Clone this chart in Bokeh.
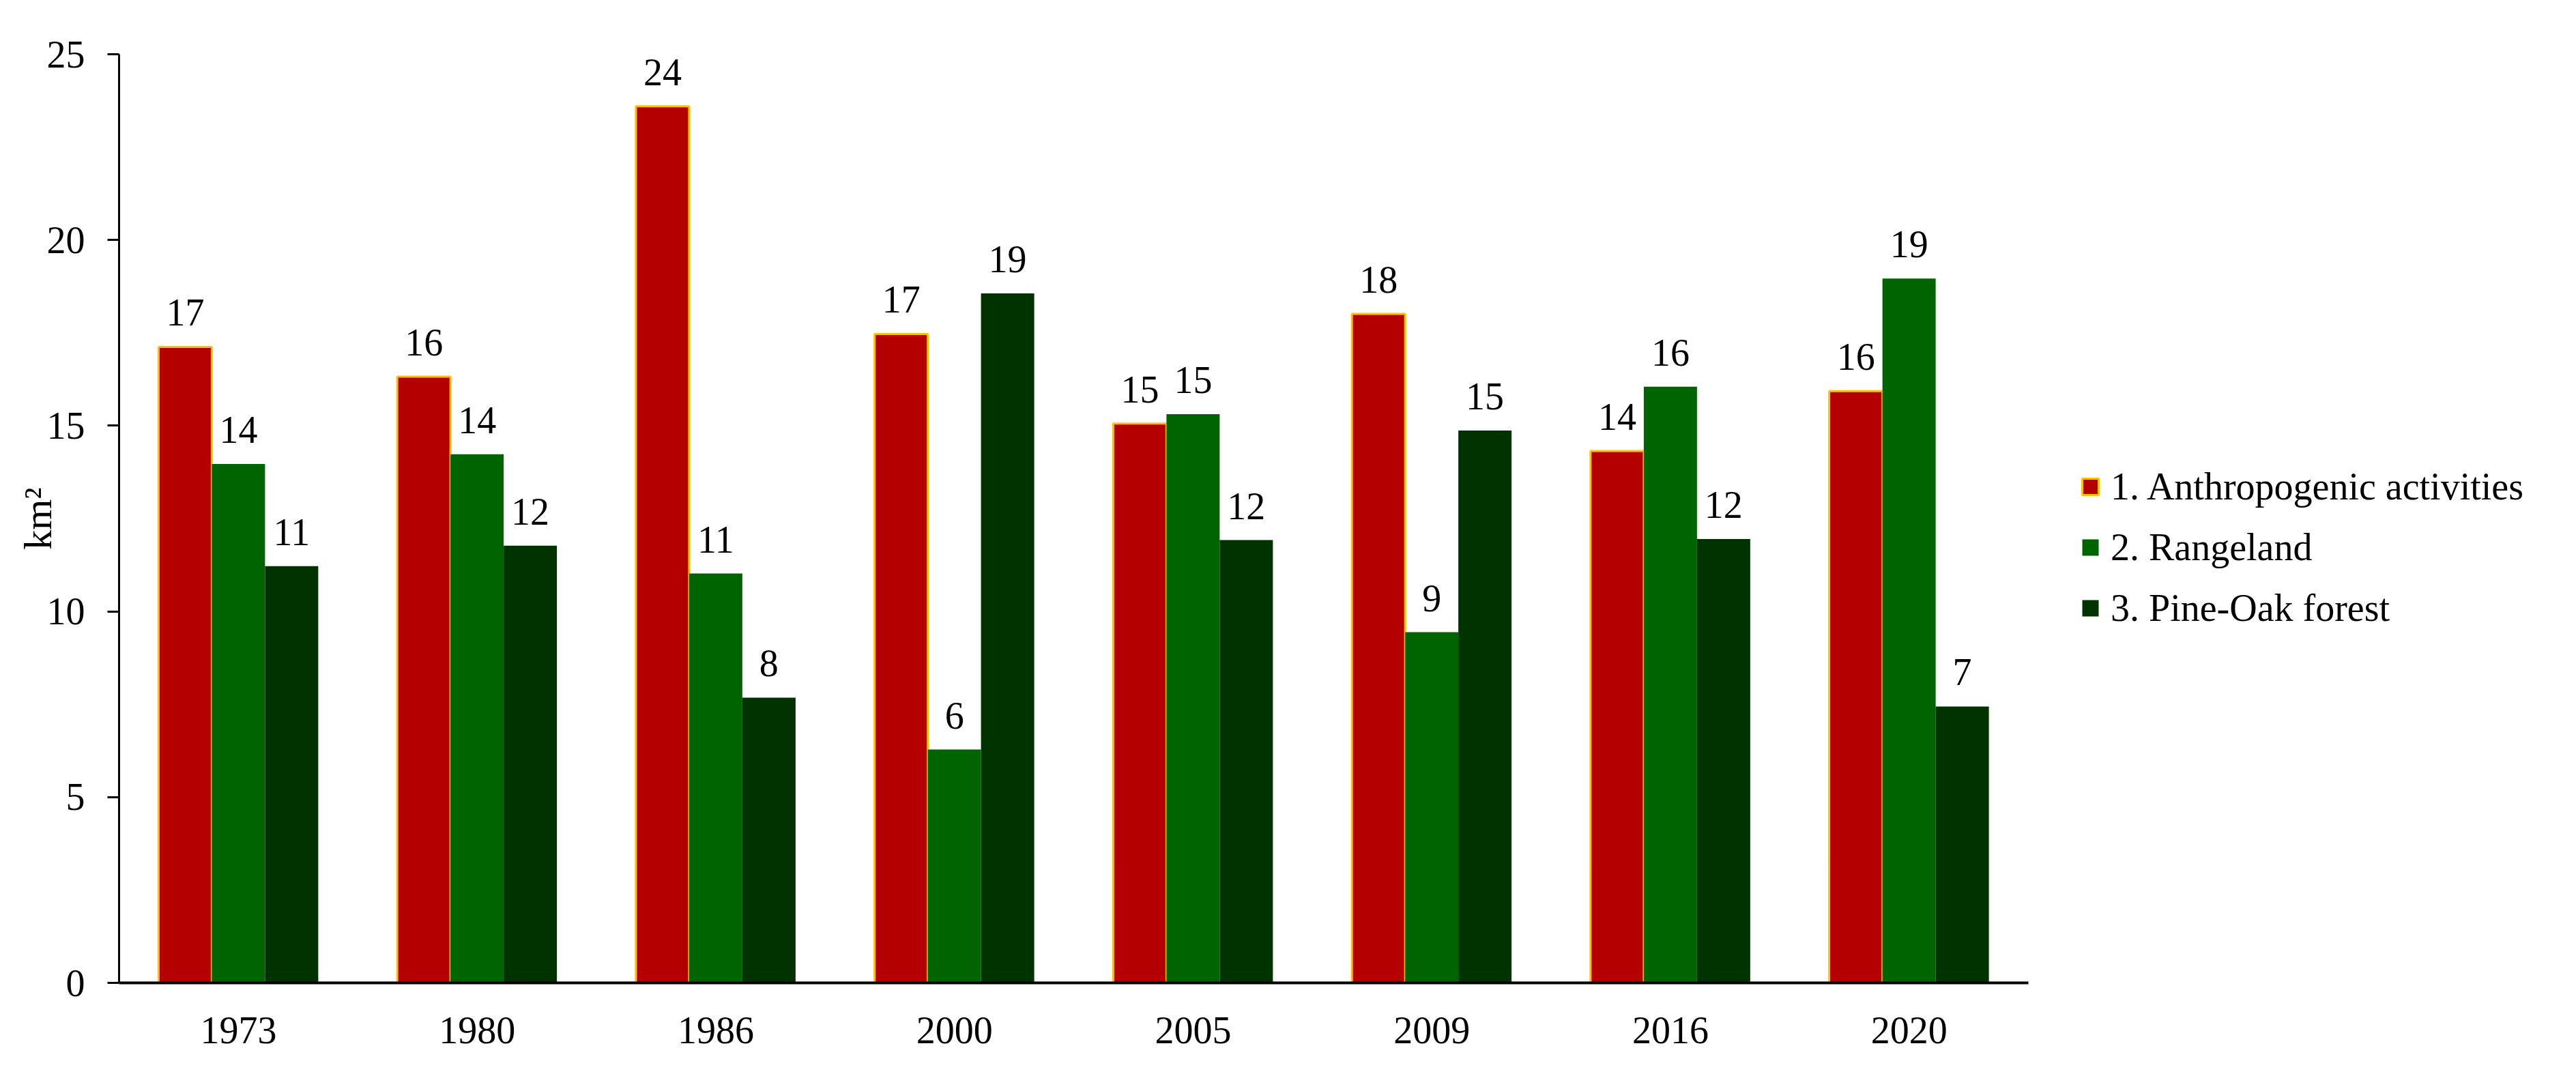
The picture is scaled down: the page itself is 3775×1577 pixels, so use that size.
from bokeh.plotting import figure
from bokeh.models import (ColumnDataSource, Legend, LegendItem, SingleIntervalTicker,
                          FixedTicker, Range1d)
from bokeh.core.properties import value
from bokeh.embed import file_html
from bokeh.resources import INLINE

years = ["1973", "1980", "1986", "2000", "2005", "2009", "2016", "2020"]
anthropogenic = [17.12, 16.32, 23.60, 17.47, 15.06, 18.01, 14.32, 15.93]
rangeland = [13.97, 14.23, 11.02, 6.28, 15.31, 9.44, 16.05, 18.96]
pine_oak = [11.22, 11.77, 7.68, 18.56, 11.92, 14.87, 11.95, 7.44]
series_names = ["1. Anthropogenic activities", "2. Rangeland", "3. Pine-Oak forest"]
y_ticks_interval = 5

FONT = "Liberation Serif"
RED = "#B40000"
GREEN = "#006400"
DARK = "#003300"
GOLD = "#FFC000"

n = len(years)
centers = [i + 0.5 for i in range(n)]
bw = 0.223
off = 0.223

src = ColumnDataSource(dict(
    xc=centers,
    xa=[c - off for c in centers],
    xr=centers,
    xp=[c + off for c in centers],
    a=anthropogenic, r=rangeland, p=pine_oak,
    a_lbl=[str(int(round(v))) for v in anthropogenic],
    r_lbl=[str(int(round(v))) for v in rangeland],
    p_lbl=[str(int(round(v))) for v in pine_oak],
))

W, H = 3759, 1561
LEFT, RIGHT, TOP, BOTTOM = 174, 10, 79, 121
frame_w = W - LEFT - RIGHT
px_per_cat = 2798 / n
p = figure(x_range=Range1d(0, frame_w / px_per_cat), y_range=Range1d(0, 25),
           width=W, height=H, output_backend="svg", toolbar_location=None,
           min_border_left=LEFT, min_border_right=RIGHT,
           min_border_top=TOP, min_border_bottom=BOTTOM)
p.outline_line_color = None
p.grid.visible = False
p.background_fill_color = "white"
p.border_fill_color = "white"

ra = p.vbar(x="xa", top="a", width=bw, source=src,
            fill_color=RED, line_color=GOLD, line_width=3)
rr = p.vbar(x="xr", top="r", width=bw, source=src,
            fill_color=GREEN, line_color=None)
rp = p.vbar(x="xp", top="p", width=bw, source=src,
            fill_color=DARK, line_color=None)

for xcol, col, lbl in [("xa", "a", "a_lbl"), ("xr", "r", "r_lbl"), ("xp", "p", "p_lbl")]:
    p.text(x=xcol, y=col, text=lbl, source=src,
           text_font=value(FONT), text_font_size="56px", text_color="black",
           text_align="center", text_baseline="alphabetic", y_offset=-50)

# x axis
xa = p.xaxis[0]
xa.bounds = (-17 / px_per_cat, n)
xa.ticker = FixedTicker(ticks=centers)
xa.major_label_overrides = {c: y for c, y in zip(centers, years)}
xa.axis_line_width = 4
xa.axis_line_color = "black"
xa.major_tick_line_color = None
xa.major_tick_out = 0
xa.major_tick_in = 0
xa.minor_tick_line_color = None
xa.major_label_text_font = FONT
xa.major_label_text_font_size = "56px"
xa.major_label_text_color = "black"
xa.major_label_standoff = 50

# y axis
ya = p.yaxis[0]
ya.ticker = SingleIntervalTicker(interval=y_ticks_interval, num_minor_ticks=0)
ya.axis_line_width = 3
ya.axis_line_color = "black"
ya.major_tick_line_width = 3
ya.major_tick_line_color = "black"
ya.major_tick_out = 17
ya.major_tick_in = 0
ya.minor_tick_line_color = None
ya.major_label_text_font = FONT
ya.major_label_text_font_size = "56px"
ya.major_label_text_color = "black"
ya.major_label_standoff = 33
ya.axis_label = "km²"
ya.axis_label_text_font = FONT
ya.axis_label_text_font_size = "58px"
ya.axis_label_text_font_style = "normal"
ya.axis_label_text_color = "black"
ya.axis_label_standoff = -22

legend = Legend(items=[
    LegendItem(label=series_names[0], renderers=[ra]),
    LegendItem(label=series_names[1], renderers=[rr]),
    LegendItem(label=series_names[2], renderers=[rp]),
], location=(2874, 517))
legend.glyph_width = 30
legend.glyph_height = 30
legend.label_standoff = 15
legend.label_text_font = FONT
legend.label_text_font_size = "56px"
legend.label_text_color = "black"
legend.spacing = 25
legend.padding = 0
legend.margin = 0
legend.border_line_color = None
legend.background_fill_alpha = 0
p.add_layout(legend, "center")

open("out.html", "w").write(file_html(p, INLINE))
